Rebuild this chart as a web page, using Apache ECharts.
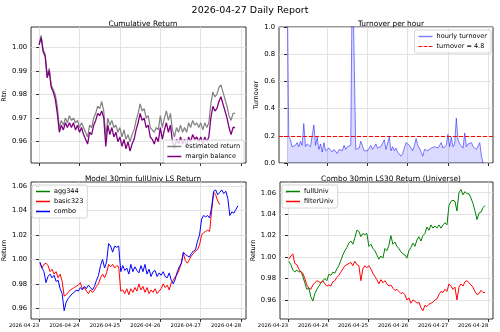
<!DOCTYPE html>
<html><head><meta charset="utf-8">
<script src="https://cdn.jsdelivr.net/npm/echarts@6/dist/echarts.min.js"></script>
<style>html,body{margin:0;padding:0;background:#fff}#c{width:500px;height:332px}</style>
</head><body><div id="c"></div>
<script>
// ---- data ----
const dateLabels = ['2026-04-23','2026-04-24','2026-04-25','2026-04-26','2026-04-27','2026-04-28'];
const dayTicks = [0,1,2,3,4,5];
// top-left: cumulative return (x: days since 2026-04-23 00:00, step 0.05)
const cumStart = 0, cumStep = 0.05;
const estimatedReturn = [1.001,1.005,0.999,0.997,0.988,0.991,0.984,0.982,0.980,0.975,0.966,0.969,0.967,0.970,0.968,0.971,0.969,0.970,0.968,0.969,
0.966,0.968,0.966,0.964,0.962,0.967,0.966,0.970,0.972,0.975,0.974,0.977,0.973,0.962,0.970,0.967,0.969,0.966,0.967,0.964,
0.966,0.962,0.965,0.961,0.963,0.960,0.963,0.965,0.969,0.972,0.976,0.973,0.974,0.970,0.971,0.966,0.965,0.964,0.966,0.965,
0.971,0.966,0.970,0.973,0.969,0.972,0.965,0.962,0.966,0.964,0.967,0.964,0.966,0.964,0.968,0.966,0.969,0.967,0.968,0.966,
0.968,0.965,0.968,0.966,0.968,0.976,0.981,0.979,0.980,0.983,0.984,0.981,0.978,0.975,0.971,0.969,0.972,0.972];
const marginBalance = [1.001,1.004,0.998,0.996,0.987,0.990,0.983,0.981,0.978,0.972,0.964,0.967,0.965,0.968,0.966,0.968,0.966,0.968,0.965,0.967,
0.964,0.966,0.963,0.961,0.959,0.964,0.963,0.967,0.969,0.972,0.971,0.973,0.970,0.958,0.967,0.963,0.966,0.962,0.964,0.960,
0.962,0.958,0.961,0.957,0.960,0.956,0.959,0.961,0.965,0.968,0.972,0.969,0.970,0.966,0.967,0.962,0.961,0.959,0.962,0.960,
0.966,0.961,0.965,0.968,0.964,0.967,0.960,0.957,0.961,0.959,0.962,0.959,0.961,0.958,0.962,0.960,0.963,0.961,0.962,0.960,
0.962,0.959,0.962,0.960,0.962,0.970,0.975,0.973,0.974,0.977,0.979,0.976,0.973,0.970,0.966,0.963,0.966,0.966];
// top-right: hourly turnover (step 1 hour)
const turnStart = 0, turnStep = 1/24;
const hourlyTurnover = [1.5,0.20,0.17,0.12,0.12,0.13,0.15,0.12,0.16,0.13,0.29,0.12,0.14,0.15,0.12,0.13,0.28,0.13,0.19,0.10,
0.14,0.08,0.15,0.09,0.10,0.11,0.10,0.08,0.10,0.09,0.07,0.10,0.11,0.09,0.13,0.10,0.12,0.11,0.13,1.5,
1.5,0.10,0.10,0.11,0.16,0.16,0.09,0.10,0.09,0.09,0.13,0.10,0.10,0.14,0.11,0.10,0.12,0.13,0.17,0.10,
0.11,0.19,0.09,0.12,0.09,0.11,0.08,0.07,0.05,0.07,0.06,0.15,0.14,0.13,0.11,0.09,0.13,0.18,0.13,0.11,
0.08,0.05,0.10,0.11,0.09,0.10,0.11,0.10,0.12,0.11,0.11,0.12,0.15,0.11,0.10,0.13,0.21,0.12,0.19,0.12,
0.14,0.33,0.17,0.14,0.13,0.11,0.22,0.12,0.14,0.15,0.15,0.12,0.11,0.10,0.11,0.15,0.05,0.0];
const turnoverThreshold = 0.2;
// bottom panels (step 0.05 day, starting 0.02)
const retStart = 0.02, retStep = 0.05;
const agg344 = [];
const basic323 = [0.997,0.993,0.996,0.997,0.995,0.990,0.992,0.988,0.990,0.985,0.988,0.982,0.970,0.971,0.973,0.975,0.976,0.977,0.978,0.979,
0.981,0.976,0.977,0.974,0.972,0.975,0.973,0.975,0.978,0.980,0.985,0.988,0.985,0.989,0.996,0.994,0.996,0.993,0.995,0.994,
0.974,0.975,0.972,0.976,0.971,0.976,0.973,0.977,0.974,0.980,0.975,0.978,0.973,0.977,0.972,0.975,0.973,0.976,0.972,0.974,
0.976,0.980,0.977,0.979,0.975,0.981,0.983,0.986,0.988,0.992,0.997,1.005,0.999,0.997,1.000,1.003,1.005,1.007,1.008,1.012,
1.020,1.022,1.023,1.024,1.023,1.040,1.055,1.053,1.048,1.045];
const combo = [0.998,0.993,0.990,0.981,0.986,0.988,0.985,0.987,0.982,0.983,0.976,0.972,0.958,0.965,0.968,0.970,0.972,0.973,0.975,0.974,
0.977,0.975,0.978,0.976,0.979,0.977,0.975,0.978,0.983,0.987,0.995,1.000,0.993,0.998,1.013,1.011,1.006,1.011,1.010,1.011,
0.990,0.995,0.991,0.993,0.988,0.996,0.990,0.994,0.991,0.989,0.995,0.990,0.996,0.988,0.992,0.986,0.990,0.991,0.986,0.989,
0.987,0.990,0.986,0.985,0.989,0.983,0.980,0.984,0.990,0.994,0.997,1.006,1.004,1.003,1.002,1.005,1.007,1.008,1.015,1.020,
1.033,1.036,1.035,1.036,1.034,1.043,1.056,1.057,1.053,1.055,1.057,1.054,1.056,1.050,1.036,1.039,1.038,1.041,1.044];
const fullUniv = [0.996,0.993,0.988,0.986,0.988,0.986,0.987,0.982,0.976,0.970,0.971,0.963,0.959,0.966,0.970,0.973,0.976,0.978,0.980,0.978,
0.984,0.983,0.986,0.985,0.989,0.992,0.997,1.002,1.006,1.009,1.013,1.015,1.012,1.018,1.025,1.024,1.019,1.022,1.021,1.022,
1.010,1.012,1.008,1.006,1.002,0.998,1.001,0.999,1.008,1.006,1.011,1.020,1.012,1.014,1.010,1.008,1.005,1.003,1.002,0.999,
1.006,1.009,1.013,1.010,1.016,1.019,1.015,1.020,1.022,1.028,1.025,1.030,1.027,1.029,1.027,1.030,1.027,1.030,1.032,1.030,
1.048,1.052,1.053,1.052,1.043,1.060,1.063,1.058,1.061,1.059,1.059,1.055,1.050,1.043,1.035,1.041,1.042,1.046,1.048];
const filterUniv = [0.998,1.001,1.003,0.994,0.993,0.989,0.986,0.985,0.980,0.974,0.971,0.970,0.974,0.976,0.978,0.977,0.976,0.978,0.975,0.973,
0.974,0.973,0.977,0.978,0.981,0.983,0.986,0.989,0.992,0.993,0.994,0.995,0.992,0.996,0.993,0.992,0.978,0.989,0.992,0.990,
0.992,0.989,0.985,0.982,0.979,0.975,0.979,0.976,0.978,0.975,0.973,0.974,0.971,0.969,0.970,0.968,0.966,0.967,0.965,0.960,
0.962,0.957,0.960,0.959,0.957,0.958,0.953,0.950,0.955,0.954,0.956,0.957,0.958,0.960,0.961,0.965,0.968,0.967,0.970,0.968,
0.975,0.973,0.970,0.972,0.960,0.972,0.975,0.973,0.977,0.978,0.976,0.974,0.972,0.968,0.965,0.966,0.969,0.967,0.967];
const tlTicks = [0.96,0.97,0.98,0.99,1.00];
const trTicks = [0,0.2,0.4,0.6,0.8,1.0];
const blTicks = [0.96,0.98,1.00,1.02,1.04,1.06];
const brTicks = [0.96,0.98,1.00,1.02,1.04,1.06];

// ---- build ----
function pairs(arr, start, step){ return arr.map((v,i)=>[start+i*step, v]); }
const F = 'DejaVu Sans';
const XMIN = -0.2, XMAX = 5.12;
function xAxis(gi, showLabels){
  return {type:'value', gridIndex:gi, min:XMIN, max:XMAX,
    axisLine:{show:false},
    axisTick:{show:true, customValues:dayTicks, length:3, lineStyle:{color:'#000',width:0.8}},
    axisLabel:{show:showLabels, customValues:dayTicks, fontSize:5.2, fontFamily:F, color:'#000', margin:4, align:'right',
      formatter:(v)=>dateLabels[Math.round(v)]},
    splitLine:{show:true, lineStyle:{color:'#dcdcdc', width:0.8}}};
}
function yAxis(gi, min, max, ticks, dec, name){
  return {type:'value', gridIndex:gi, min:min, max:max, name:name, nameLocation:'middle', nameGap:dec===1?17:20,
    nameTextStyle:{fontSize:6.5, fontFamily:F, color:'#000'},
    axisLine:{show:false},
    axisTick:{show:true, customValues:ticks, length:3, lineStyle:{color:'#000',width:0.8}},
    axisLabel:{customValues:ticks, fontSize:6.8, fontFamily:F, color:'#000', margin:4, formatter:(v)=>v.toFixed(dec)},
    splitLine:{show:true, lineStyle:{color:'#dcdcdc', width:0.8}}};
}
const gridBase = {show:true, borderColor:'#000', borderWidth:0.8, backgroundColor:'transparent'};
const lineIcon = 'rect';
const dashIcon = 'path://M0,0h4v1h-4z M5.5,0h4v1h-4z M11,0h4v1h-4z';
const legendBase = {orient:'vertical', itemWidth:14, itemHeight:1.5, itemGap:3, padding:[3,4],
  backgroundColor:'rgba(255,255,255,0.8)', borderColor:'#cccccc', borderWidth:0.8, borderRadius:2,
  textStyle:{fontSize:6.5, fontFamily:F, color:'#000', padding:[0,0,0,-1]}};
const lineS = (name, xi, data, color, extra) => Object.assign({type:'line', name, xAxisIndex:xi, yAxisIndex:xi, data,
  showSymbol:false, symbol:'none', lineStyle:{color, width:1}, itemStyle:{color}, animation:false, clip:true}, extra||{});
const subTitle = {fontSize:7.4, fontWeight:'normal', fontFamily:F, color:'#000'};

const option = {
  animation:false,
  title:[
    {text:'2026-04-27 Daily Report', left:'center', top:1, textStyle:{fontSize:9.5, fontWeight:'normal', fontFamily:F, color:'#000'}},
    {text:'Cumulative Return', left:138, top:16, textAlign:'center', textStyle:subTitle},
    {text:'Turnover per hour', left:386, top:16, textAlign:'center', textStyle:subTitle},
    {text:'Model 30min fullUniv LS Return', left:138, top:171, textAlign:'center', textStyle:subTitle},
    {text:'Combo 30min LS30 Return (Universe)', left:386, top:171, textAlign:'center', textStyle:subTitle}
  ],
  grid:[
    Object.assign({left:30, top:27, width:216, height:136}, gridBase),
    Object.assign({left:279, top:27, width:214, height:136}, gridBase),
    Object.assign({left:30, top:182, width:216, height:137}, gridBase),
    Object.assign({left:280, top:182, width:213, height:137}, gridBase)
  ],
  xAxis:[xAxis(0,false), xAxis(1,false), xAxis(2,true), xAxis(3,true)],
  yAxis:[
    yAxis(0, 0.951, 1.0085, tlTicks, 2, 'Rtn.'),
    yAxis(1, 0, 1, trTicks, 1, 'Turnover'),
    yAxis(2, 0.9512, 1.0635, blTicks, 2, 'Return'),
    yAxis(3, 0.9423, 1.070, brTicks, 2, 'Return')
  ],
  legend:[
    Object.assign({}, legendBase, {right:500-244, top:140, icon:lineIcon,
      data:[{name:'estimated return'},{name:'margin balance'}]}),
    Object.assign({}, legendBase, {right:500-491, top:30,
      data:[{name:'hourly turnover', icon:lineIcon},{name:'turnover = 4.8', icon:dashIcon}]}),
    Object.assign({}, legendBase, {left:32, top:185, icon:lineIcon,
      data:[{name:'agg344'},{name:'basic323'},{name:'combo'}]}),
    Object.assign({}, legendBase, {left:282, top:185, icon:lineIcon,
      data:[{name:'fullUniv'},{name:'filterUniv'}]})
  ],
  series:[
    lineS('estimated return', 0, pairs(estimatedReturn, cumStart, cumStep), '#808080', {lineStyle:{color:'#808080', width:1.2}}),
    lineS('margin balance', 0, pairs(marginBalance, cumStart, cumStep), '#800080', {lineStyle:{color:'#800080', width:1.3}}),
    lineS('hourly turnover', 1, pairs(hourlyTurnover, turnStart, turnStep), 'rgba(0,0,255,0.5)',
      {areaStyle:{color:'rgba(0,0,255,0.2)'}, itemStyle:{color:'#8080ff'}}),
    lineS('turnover = 4.8', 1, [], '#ff0000', {markLine:{silent:true, symbol:'none', label:{show:false},
      lineStyle:{color:'#ff0000', type:[4,2], width:1}, data:[{yAxis:turnoverThreshold}]}}),
    lineS('agg344', 2, pairs(agg344, retStart, retStep), '#008000'),
    lineS('basic323', 2, pairs(basic323, retStart, retStep), '#ff0000'),
    lineS('combo', 2, pairs(combo, retStart, retStep), '#0000ff'),
    lineS('fullUniv', 3, pairs(fullUniv, retStart, retStep), '#008000'),
    lineS('filterUniv', 3, pairs(filterUniv, retStart, retStep), '#ff0000')
  ]
};
const chart = echarts.init(document.getElementById('c'), null, {renderer:'canvas'});
chart.setOption(option);
</script></body></html>
